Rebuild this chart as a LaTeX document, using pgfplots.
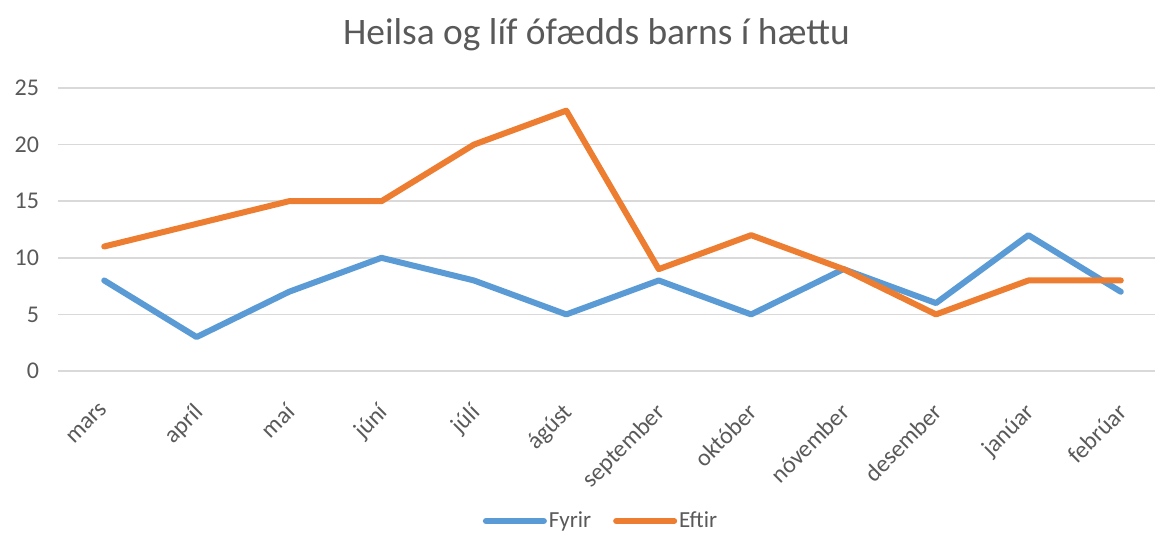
\documentclass[border=0pt]{standalone}
\usepackage{fontspec}
\setmainfont{Carlito}
\usepackage{pgfplots}
\pgfplotsset{compat=1.18}

\definecolor{fyrir}{HTML}{5B9BD5}
\definecolor{eftir}{HTML}{ED7D31}
\definecolor{gridgray}{HTML}{D9D9D9}
\definecolor{txt}{HTML}{595959}

\begin{document}
\begin{tikzpicture}
\useasboundingbox (-29pt,-80.5pt) rectangle (548.5pt,185.5pt);
\begin{axis}[
  at={(0,0)}, anchor=south west,
  scale only axis, width=548.5pt, height=141.5pt,
  xmin=-0.5, xmax=11.37, ymin=0, ymax=25,
  ytick={0,5,...,25},
  xtick={0,...,11},
  xticklabels={mars,apríl,maí,júní,júlí,ágúst,september,október,nóvember,desember,janúar,febrúar},
  axis line style={draw=none},
  major tick length=0pt,
  ymajorgrids, grid style={gridgray, line width=0.75pt},
  /pgf/number format/assume math mode=true,
  tick label style={font=\fontsize{12}{14}\selectfont, text=txt},
  yticklabel style={xshift=-6pt},
  xticklabel style={rotate=45, anchor=north east, xshift=-9pt, yshift=-6pt},
  legend style={at={(0.495,-0.53)}, anchor=center, draw=none,
    font=\fontsize{11.5}{14}\selectfont, text=txt, legend columns=2,
    nodes={inner xsep=1pt},
    /tikz/every even column/.append style={column sep=10pt}},
  legend image code/.code={\draw[#1,line cap=round] (0pt,0pt) -- (29pt,0pt);},
]
\addplot[fyrir, line width=3pt, line cap=round, line join=round] coordinates {
  (0,8) (1,3) (2,7) (3,10) (4,8) (5,5) (6,8) (7,5) (8,9) (9,6) (10,12) (11,7)};
\addlegendentry{Fyrir}
\addplot[eftir, line width=3pt, line cap=round, line join=round] coordinates {
  (0,11) (1,13) (2,15) (3,15) (4,20) (5,23) (6,9) (7,12) (8,9) (9,5) (10,8) (11,8)};
\addlegendentry{Eftir}
\end{axis}
\node[text=txt, font=\fontsize{18.7}{22}\selectfont] at (269.25pt,168pt) {Heilsa og líf ófædds barns í hættu};
\end{tikzpicture}
\end{document}
